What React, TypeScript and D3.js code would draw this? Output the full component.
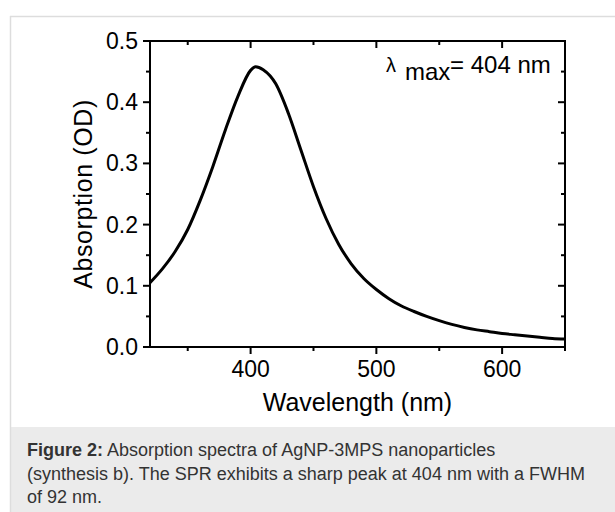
import React from "react";
import * as d3 from "d3";

const wavelengths = [320, 330, 340, 350, 360, 370, 380, 390, 400, 404, 410, 420, 430, 440, 450, 460, 470, 480, 490, 500, 510, 520, 530, 540, 550, 560, 570, 580, 590, 600, 610, 620, 630, 640, 650];
const absorption = [0.105, 0.128, 0.156, 0.192, 0.240, 0.295, 0.355, 0.410, 0.452, 0.458, 0.453, 0.430, 0.382, 0.322, 0.262, 0.210, 0.168, 0.136, 0.112, 0.094, 0.079, 0.067, 0.058, 0.050, 0.043, 0.037, 0.032, 0.028, 0.025, 0.022, 0.020, 0.018, 0.016, 0.014, 0.013];
const xMajorTicks = [400, 500, 600];
const xMinorTicks = [350, 450, 550, 650];
const yMajorTicks = [0, 0.1, 0.2, 0.3, 0.4, 0.5];
const yMinorTicks = [0.05, 0.15, 0.25, 0.35, 0.45];
const captionLines = [
  { bold: "Figure 2:", text: " Absorption spectra of AgNP-3MPS nanoparticles" },
  { bold: "", text: "(synthesis b). The SPR exhibits a sharp peak at 404 nm with a FWHM" },
  { bold: "", text: "of 92 nm." },
];

export default function App() {
  const W = 615, H = 512;
  const left = 150, right = 565, top = 41, bottom = 347;
  const x = d3.scaleLinear().domain([320, 650]).range([left, right]);
  const y = d3.scaleLinear().domain([0, 0.5]).range([bottom, top]);
  const data = wavelengths.map((w, i) => [w, absorption[i]] as [number, number]);
  const line = d3.line<[number, number]>().x(d => x(d[0])).y(d => y(d[1])).curve(d3.curveMonotoneX);
  const font = "'Liberation Sans', Arial, sans-serif";
  const maj = 7, min = 4;
  return (
    <svg width={W} height={H} style={{ position: "absolute", left: 0, top: 0, display: "block" }} fontFamily={font}>
      <rect x={0} y={0} width={W} height={H} fill="#fff" />
      {/* outer frame */}
      <rect x={10} y={427} width={W - 10} height={H - 427} fill="#ebebeb" />
      <line x1={10.5} y1={16} x2={10.5} y2={H} stroke="#dddddd" strokeWidth={1.5} />
      <line x1={10} y1={16.5} x2={W} y2={16.5} stroke="#dddddd" strokeWidth={1.5} />

      {/* curve */}
      <path d={line(data) || ""} fill="none" stroke="#000" strokeWidth={3} strokeLinejoin="round" />

      {/* frame */}
      <rect x={left} y={top} width={right - left} height={bottom - top} fill="none" stroke="#000" strokeWidth={2} />

      {/* x ticks bottom (out) and top (in) */}
      {xMajorTicks.map(t => (
        <g key={"xM" + t}>
          <line x1={x(t)} x2={x(t)} y1={bottom} y2={bottom + maj} stroke="#000" strokeWidth={2} />
          <line x1={x(t)} x2={x(t)} y1={top} y2={top + maj} stroke="#000" strokeWidth={2} />
          <text x={x(t)} y={377} textAnchor="middle" fontSize={23} fill="#000">{t}</text>
        </g>
      ))}
      {xMinorTicks.map(t => (
        <g key={"xm" + t}>
          <line x1={x(t)} x2={x(t)} y1={bottom} y2={bottom + min} stroke="#000" strokeWidth={2} />
          <line x1={x(t)} x2={x(t)} y1={top} y2={top + min} stroke="#000" strokeWidth={2} />
        </g>
      ))}
      {/* y ticks left (out) and right (in) */}
      {yMajorTicks.map(t => (
        <g key={"yM" + t}>
          <line x1={left} x2={left - maj} y1={y(t)} y2={y(t)} stroke="#000" strokeWidth={2} />
          <line x1={right} x2={right - maj} y1={y(t)} y2={y(t)} stroke="#000" strokeWidth={2} />
          <text x={138} y={y(t) + 8} textAnchor="end" fontSize={23} fill="#000">{d3.format(".1f")(t)}</text>
        </g>
      ))}
      {yMinorTicks.map(t => (
        <g key={"ym" + t}>
          <line x1={left} x2={left - min} y1={y(t)} y2={y(t)} stroke="#000" strokeWidth={2} />
          <line x1={right} x2={right - min} y1={y(t)} y2={y(t)} stroke="#000" strokeWidth={2} />
        </g>
      ))}

      {/* axis titles */}
      <text x={(left + right) / 2} y={411} textAnchor="middle" fontSize={25} fill="#000">Wavelength (nm)</text>
      <text transform={`translate(92, ${(top + bottom) / 2}) rotate(-90)`} textAnchor="middle" fontSize={25} letterSpacing={0.6} fill="#000">Absorption (OD)</text>

      {/* annotation */}
      <text x={386} y={72} fontSize={20} fill="#000">λ</text>
      <text x={405} y={80} fontSize={24} fill="#000">max</text>
      <text x={450} y={73} fontSize={24} fill="#000">= 404 nm</text>

      {/* caption */}
      {captionLines.map((l, i) => (
        <text key={i} x={27} y={456 + i * 23.5} fontSize={18} fill="#333">
          {l.bold && <tspan fontWeight="bold">{l.bold}</tspan>}
          <tspan>{l.text}</tspan>
        </text>
      ))}
    </svg>
  );
}
